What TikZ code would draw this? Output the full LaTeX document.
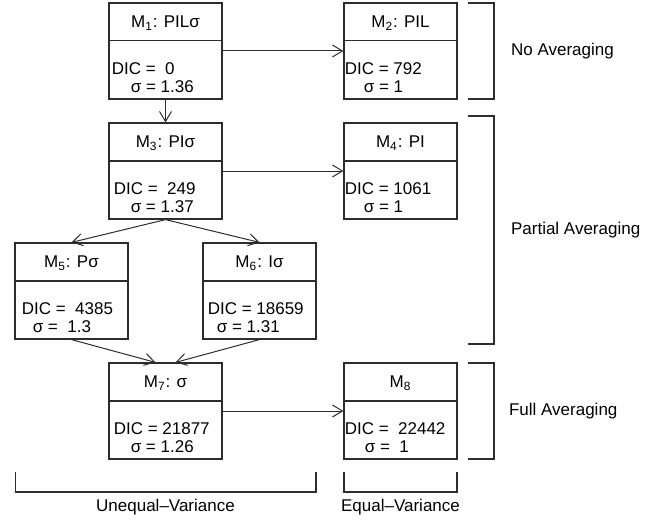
\documentclass[tikz,border=0pt]{standalone}
\usepackage{fontspec}
\setmainfont{Liberation Sans}
\usetikzlibrary{arrows.meta, positioning, calc}
\definecolor{line1}{RGB}{45, 45, 45}

\begin{document}
\begin{tikzpicture}[x=0.5pt, y=-0.5pt,
  font=\fontsize{8.5}{9}\selectfont,
  mbox/.style={draw=line1, line width=0.6pt, minimum width=56.5pt, minimum height=48pt, inner sep=0pt},
  mhead/.style={inner sep=0pt},
  mbody/.style={anchor=west, align=left, inner sep=0pt},
  link/.style={draw=line1, line width=0.5pt, -{Straight Barb[length=5pt, width=6pt]}},
  brace/.style={draw=line1, line width=0.6pt}]
  \useasboundingbox (0,0) rectangle (657,519);

  % model boxes
  \node[mbox] (m1) at (165.5,51) {};
  \node[mbox] (m2) at (400.5,51) {};
  \node[mbox] (m3) at (165.5,171) {};
  \node[mbox] (m4) at (400.5,171) {};
  \node[mbox] (m5) at (71.5,291) {};
  \node[mbox] (m6) at (259.5,291) {};
  \node[mbox] (m7) at (165.5,411) {};
  \node[mbox] (m8) at (400.5,411) {};
  \foreach \m in {m1,m2,m3,m4,m5,m6,m7,m8}
    \draw[brace] ([yshift=-19.25pt]\m.north west) -- ([yshift=-19.25pt]\m.north east);

  % headers
  \node[mhead] (m1h) at ([yshift=-10.5pt]m1.north) {M\textsubscript{1}: PILσ};
  \node[mhead] (m2h) at ([yshift=-10.5pt]m2.north) {M\textsubscript{2}: PIL};
  \node[mhead] (m3h) at ([yshift=-10.5pt]m3.north) {M\textsubscript{3}: PIσ};
  \node[mhead] (m4h) at ([yshift=-10.5pt]m4.north) {M\textsubscript{4}: PI};
  \node[mhead] (m5h) at ([yshift=-10.5pt]m5.north) {M\textsubscript{5}: Pσ};
  \node[mhead] (m6h) at ([yshift=-10.5pt]m6.north) {M\textsubscript{6}: Iσ};
  \node[mhead] (m7h) at ([yshift=-10.5pt]m7.north) {M\textsubscript{7}: σ};
  \node[mhead] (m8h) at ([yshift=-10.5pt]m8.north) {M\textsubscript{8}};

  % fit statistics
  \node[mbody] (m1b) at ([xshift=1.5pt, yshift=-13.5pt]m1.west) {DIC = \ 0\\\hspace*{9.5pt}σ = 1.36};
  \node[mbody] (m2b) at ([xshift=0.5pt, yshift=-13.5pt]m2.west) {DIC = 792\\\hspace*{9.5pt}σ = 1};
  \node[mbody] (m3b) at ([xshift=2.5pt, yshift=-13.5pt]m3.west) {DIC = \ 249\\\hspace*{8.5pt}σ = 1.37};
  \node[mbody] (m4b) at ([xshift=0.5pt, yshift=-13.5pt]m4.west) {DIC = 1061\\\hspace*{9.5pt}σ = 1};
  \node[mbody] (m5b) at ([xshift=3.5pt, yshift=-13.5pt]m5.west) {DIC = \ 4385\\\hspace*{5.5pt}σ = \ 1.3};
  \node[mbody] (m6b) at ([xshift=2.5pt, yshift=-13.5pt]m6.west) {DIC = 18659\\\hspace*{4.5pt}σ = 1.31};
  \node[mbody] (m7b) at ([xshift=2.5pt, yshift=-13.5pt]m7.west) {DIC = 21877\\\hspace*{8.5pt}σ = 1.26};
  \node[mbody] (m8b) at ([xshift=0.5pt, yshift=-13.5pt]m8.west) {DIC = \ 22442\\\hspace*{10pt}σ = \ 1};

  % arrows
  \draw[link] (m1) -- (m2);
  \draw[link] (m1) -- (m3);
  \draw[link] (m3) -- (m4);
  \draw[link] (m3.south) -- (m5.north);
  \draw[link] (m3.south) -- (m6.north);
  \draw[link] (m5.south) -- ([xshift=-5pt]m7.north);
  \draw[link] (m6.south) -- ([xshift=5pt]m7.north);
  \draw[link] (m7) -- (m8);

  % averaging brackets
  \draw[brace] (468,3) -| (494,99) -- (468,99);
  \draw[brace] (468,116) -| (494,344) -- (468,344);
  \draw[brace] (468,363) -| (494,459) -- (468,459);
  \node[anchor=west] (noavg) at (504,51) {No Averaging};
  \node[anchor=west] (partavg) at (504,230) {Partial Averaging};
  \node[anchor=west] (fullavg) at (502,411) {Full Averaging};

  % variance brackets
  \draw[brace] (15.5,472) |- (316,492) -- (316,472);
  \draw[brace] (344,472) |- (457,492) -- (457,472);
  \node (unequal) at (165.5,507) {Unequal–Variance};
  \node (equal) at (400.5,507) {Equal–Variance};
\end{tikzpicture}
\end{document}
